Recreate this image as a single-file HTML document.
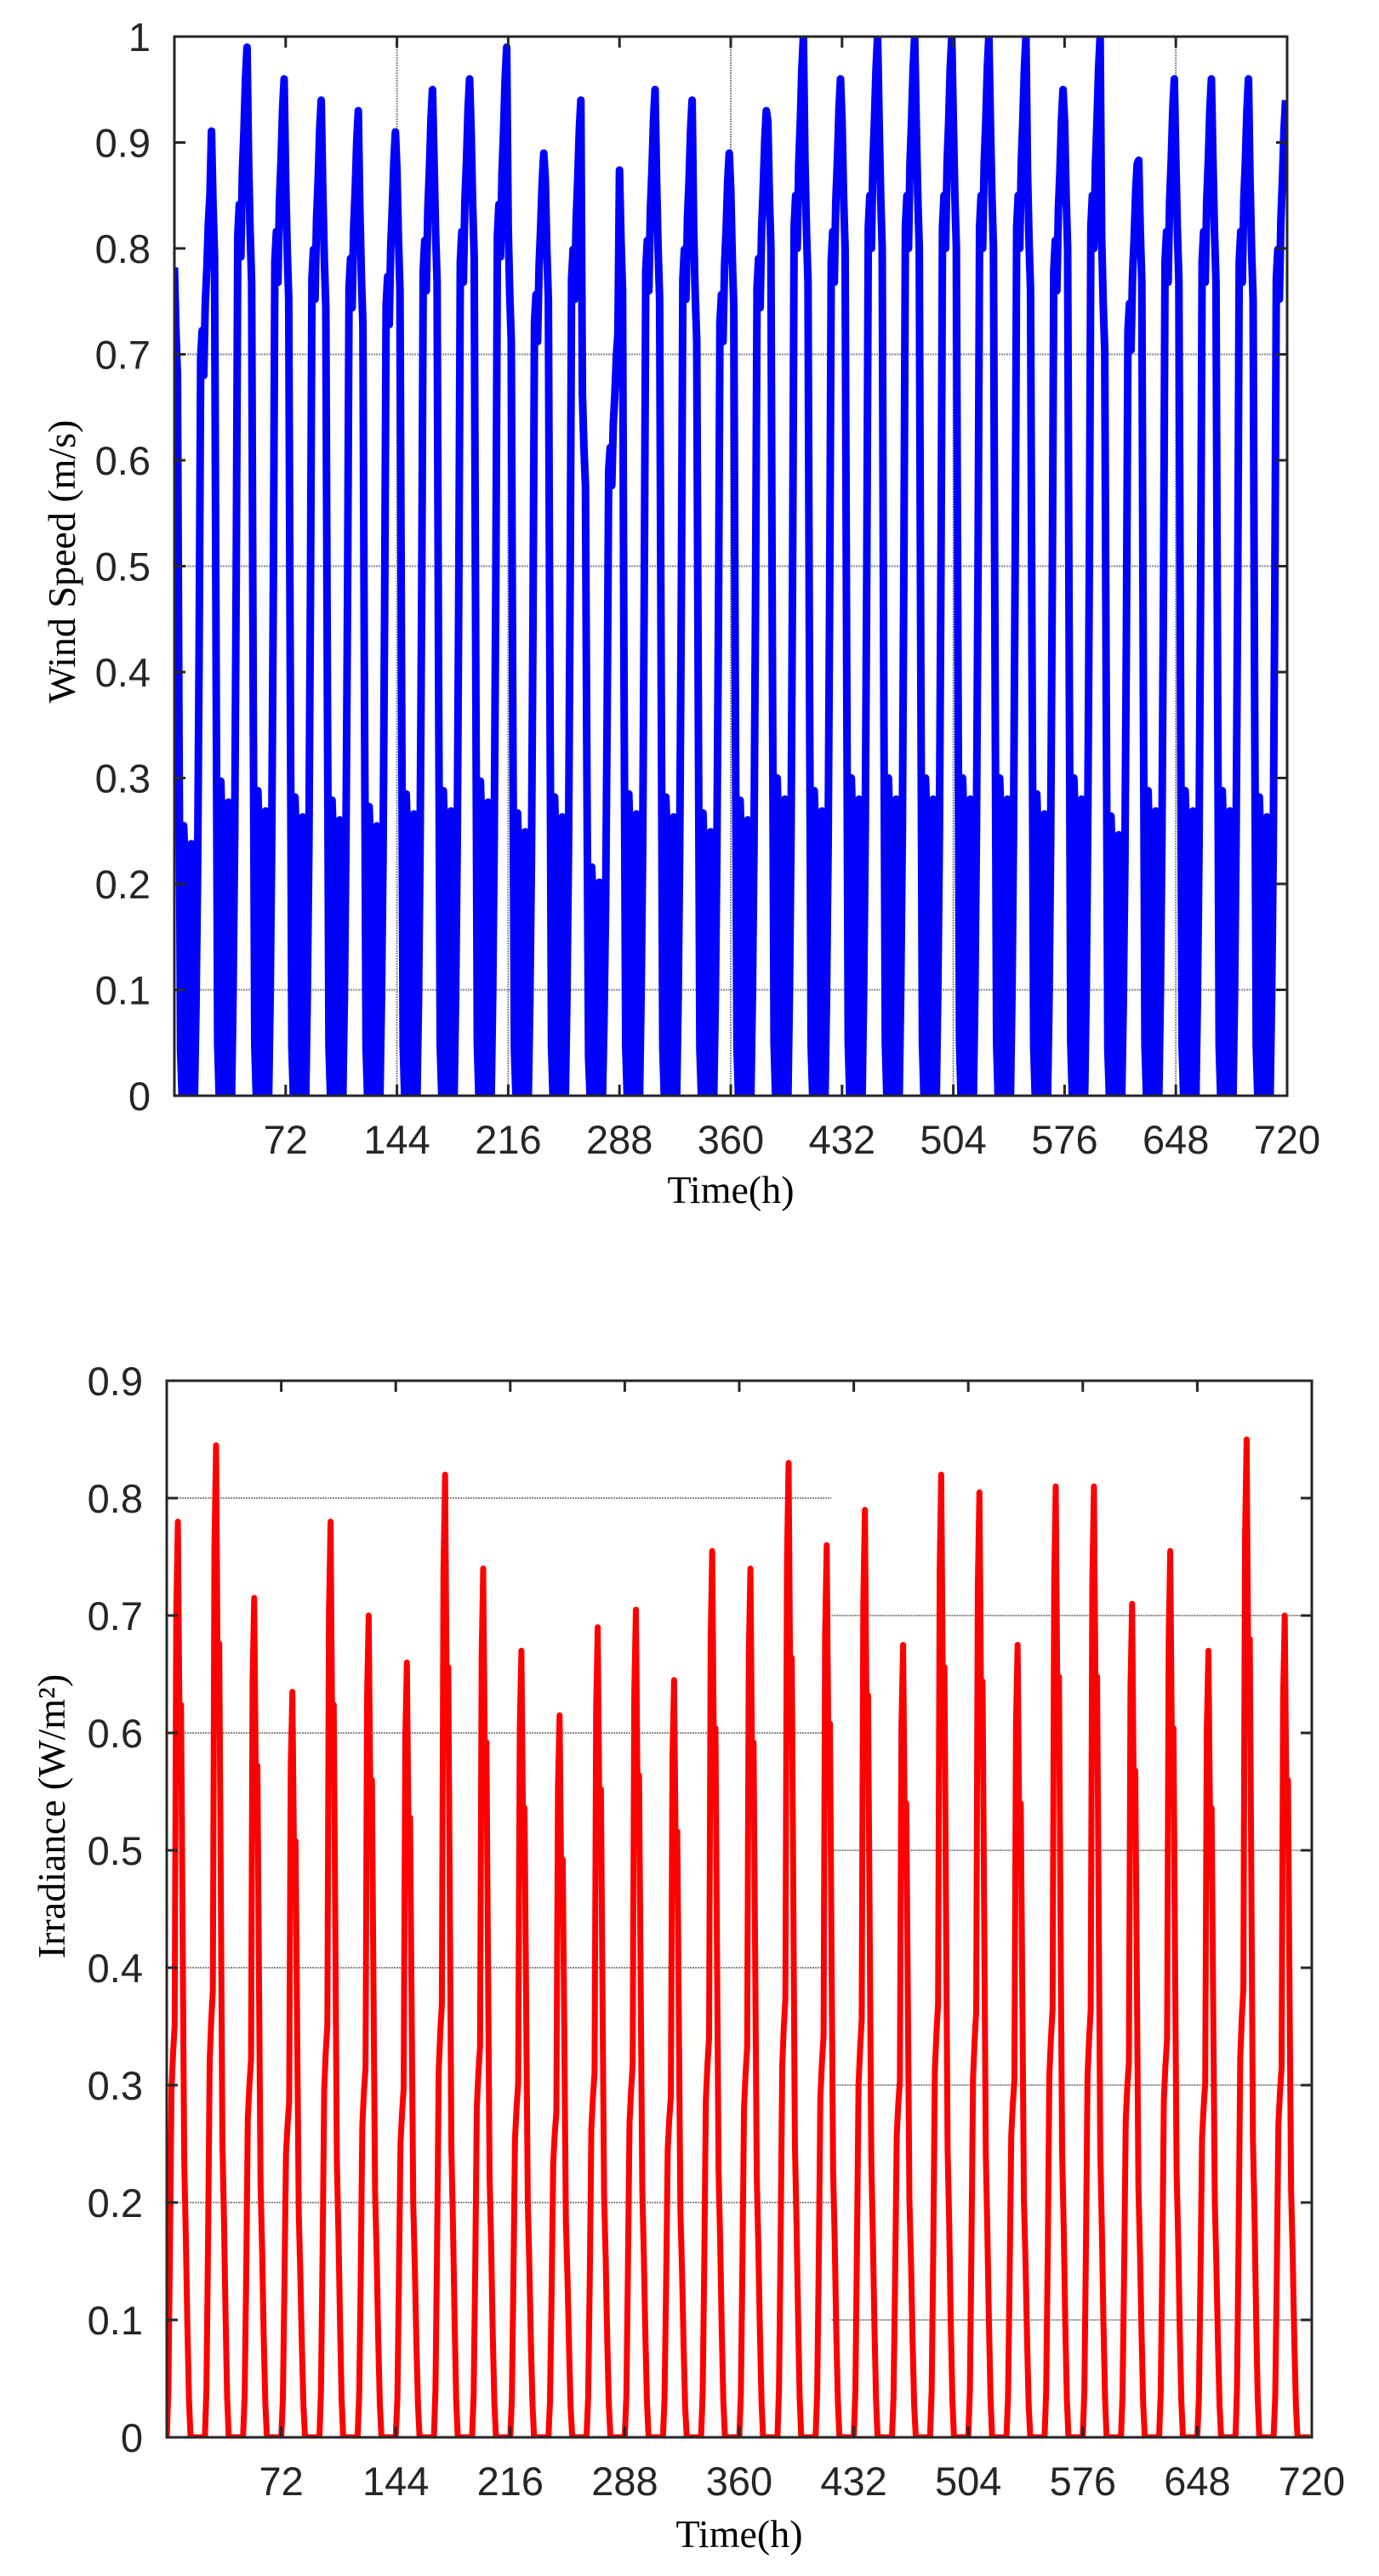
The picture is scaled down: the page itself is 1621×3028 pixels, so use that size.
<!DOCTYPE html>
<html><head><meta charset="utf-8"><title>Wind speed and irradiance over 720 hours</title>
<style>html,body{margin:0;padding:0;background:#fff}svg{display:block}</style></head>
<body>
<svg id="fig" width="1621" height="3028" viewBox="0 0 1621 3028" xmlns="http://www.w3.org/2000/svg">
<defs>
<clipPath id="clipTop"><rect x="205" y="43" width="1308" height="1245"/></clipPath>
<clipPath id="clipBot"><rect x="196" y="1623" width="1346" height="1242"/></clipPath>
</defs>
<g id="top"></g>
<g id="bot"></g>
</svg>
<script>
// ---- data ----
const xTicks = [72, 144, 216, 288, 360, 432, 504, 576, 648, 720];
const windYTicks = [0, 0.1, 0.2, 0.3, 0.4, 0.5, 0.6, 0.7, 0.8, 0.9, 1];
const irrYTicks = [0, 0.1, 0.2, 0.3, 0.4, 0.5, 0.6, 0.7, 0.8, 0.9];
// hourly shape of a typical day (fraction of that day's maximum)
const windProfile = [0.92, 0.85, 0.8, 0.4, 0.05, 0, 0.3, 0.25, 0.12, 0, 0.05, 0.28, 0.15, 0, 0.1, 0.25, 0.5, 0.82, 0.85, 0.8, 0.88, 0.92, 0.97, 1.0];
// daily maximum wind speed (30 days)
const windDayMax = [0.85, 0.99, 0.96, 0.94, 0.93, 0.91, 0.95, 0.96, 0.99, 0.89, 0.94, 0.72, 0.95, 0.94, 0.89, 0.93, 1.0, 0.96, 1.0, 1.0, 1.0, 1.0, 1.0, 0.95, 1.0, 0.88, 0.96, 0.96, 0.96, 0.94];
const irrProfile = [0, 0.05, 0.2, 0.38, 0.42, 0.45, 0.9, 1.0, 0.78, 0.8, 0.55, 0.3, 0.22, 0.12, 0.04, 0, 0, 0, 0, 0, 0, 0, 0, 0];
// daily peak irradiance (30 days)
const irrDayPeak = [0.78, 0.845, 0.715, 0.635, 0.78, 0.70, 0.66, 0.82, 0.74, 0.67, 0.615, 0.69, 0.705, 0.645, 0.755, 0.74, 0.83, 0.76, 0.79, 0.675, 0.82, 0.805, 0.675, 0.81, 0.81, 0.71, 0.755, 0.67, 0.85, 0.70];

const NS = 'http://www.w3.org/2000/svg';
function mk(tag, attrs, parent) {
  const e = document.createElementNS(NS, tag);
  for (const k in attrs) e.setAttribute(k, attrs[k]);
  parent.appendChild(e);
  return e;
}
function series(profile, dayVals) {
  const out = [];
  for (let d = 0; d < dayVals.length; d++)
    for (let h = 0; h < 24; h++) out.push(Math.min(1, profile[h] * dayVals[d]));
  return out;
}

function chart(g, o) {
  const X = v => o.left + (v / 720) * o.w;
  const Y = v => o.top + o.h - (v / o.ymax) * o.h;
  o.hgrid.forEach(gr => {
    const ln = mk('line', {x1: X(gr[1]), x2: X(gr[2]), y1: Y(gr[0]), y2: Y(gr[0]), stroke: '#8a8a8a', 'stroke-width': 2, 'stroke-dasharray': '2,1'}, g);
    
    
  });
  o.vgrid.forEach(v => {
    const ln = mk('line', {x1: X(v), x2: X(v), y1: o.top, y2: o.top + o.h, stroke: '#8a8a8a', 'stroke-width': 2, 'stroke-dasharray': '2,1'}, g);
    
    
  });
  const pts = o.data.map((v, i) => X(i).toFixed(1) + ',' + Y(v).toFixed(1)).join(' ');
  const pl = mk('polyline', {points: pts, fill: 'none', stroke: o.color, 'stroke-width': o.lw, 'stroke-linejoin': 'round', 'clip-path': o.clip}, g);
  
  
  const box = mk('rect', {x: o.left, y: o.top, width: o.w, height: o.h, fill: 'none', stroke: '#262626', 'stroke-width': 3}, g);
  
  
  xTicks.forEach(t => {
    const x = X(t);
    mk('line', {x1: x, x2: x, y1: o.top + o.h, y2: o.top + o.h - 13, stroke: '#262626', 'stroke-width': 3}, g);
    mk('line', {x1: x, x2: x, y1: o.top, y2: o.top + 13, stroke: '#262626', 'stroke-width': 3}, g);
    const tx = mk('text', {x: x, y: o.top + o.h + 68, 'text-anchor': 'middle', 'font-family': 'Liberation Sans, Arial, sans-serif', 'font-size': 47, fill: '#262626'}, g);
    tx.textContent = t;
    
    
  });
  o.yticks.forEach(t => {
    const y = Y(t);
    mk('line', {x1: o.left, x2: o.left + 13, y1: y, y2: y, stroke: '#262626', 'stroke-width': 3}, g);
    mk('line', {x1: o.left + o.w, x2: o.left + o.w - 13, y1: y, y2: y, stroke: '#262626', 'stroke-width': 3}, g);
    const tx = mk('text', {x: o.left - 28, y: y + 17, 'text-anchor': 'end', 'font-family': 'Liberation Sans, Arial, sans-serif', 'font-size': 47, fill: '#262626'}, g);
    tx.textContent = String(t);
    
    
  });
  const xt = mk('text', {x: o.left + o.w / 2, y: o.xTitleY, 'text-anchor': 'middle', 'font-family': 'Liberation Serif, Times New Roman, serif', 'font-size': 46, fill: '#000'}, g);
  xt.textContent = 'Time(h)';
  
  
  const yt = mk('text', {x: 0, y: 0, transform: 'translate(' + o.yTitleX + ',' + o.yTitleY + ') rotate(-90)', 'text-anchor': 'middle', 'font-family': 'Liberation Serif, Times New Roman, serif', 'font-size': 46, fill: '#000'}, g);
  yt.textContent = o.yTitle;
  
  
}

chart(document.getElementById('top'), {
  left: 205, top: 43, w: 1308, h: 1245, ymax: 1, yticks: windYTicks,
  data: series(windProfile, windDayMax), color: '#0000ff', lw: 9, clip: 'url(#clipTop)',
  seriesName: 'wind-speed-line',
  hgrid: [[0.1, 0, 720], [0.5, 0, 720], [0.7, 0, 720]],
  vgrid: [144, 216, 360, 504, 648],
  xTitleY: 1414, yTitleX: 88, yTitleY: 660, yTitle: 'Wind Speed (m/s)'
});
chart(document.getElementById('bot'), {
  left: 196, top: 1623, w: 1346, h: 1242, ymax: 0.9, yticks: irrYTicks,
  data: series(irrProfile, irrDayPeak), color: '#ff0000', lw: 7, clip: 'url(#clipBot)',
  seriesName: 'irradiance-line',
  hgrid: [[0.8, 0, 418], [0.6, 0, 418], [0.4, 0, 418], [0.2, 0, 418], [0.7, 418, 720], [0.5, 418, 720], [0.3, 418, 720], [0.1, 418, 720]],
  vgrid: [],
  xTitleY: 2994, yTitleX: 76, yTitleY: 2135, yTitle: 'Irradiance (W/m²)'
});
</script>
</body></html>
